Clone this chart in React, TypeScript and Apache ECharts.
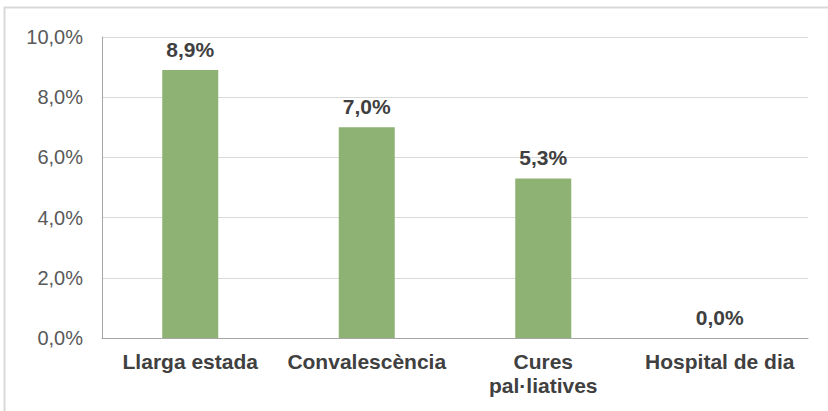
import React, { useEffect, useRef } from "react";
import * as echarts from "echarts";

const categories = ["Llarga estada", "Convalescència", "Cures pal·liatives", "Hospital de dia"];
const values = [8.9, 7.0, 5.3, 0.0];
const yTicks = { min: 0, max: 10, interval: 2 };

const fmt = (v: number) => v.toFixed(1).replace(".", ",") + "%";

export default function App() {
  const ref = useRef<HTMLDivElement>(null);
  useEffect(() => {
    const chart = echarts.init(ref.current!, null, { renderer: "svg" });
    chart.setOption({
      animation: false,
      backgroundColor: "#ffffff",
      textStyle: { fontFamily: "Liberation Sans, Arial, sans-serif" },
      graphic: [
        {
          type: "rect",
          shape: { x: 4.5, y: 7.5, width: 900, height: 600 },
          style: { fill: "none", stroke: "#d9d9d9", lineWidth: 2 },
          silent: true,
        },
      ],
      grid: { left: 102, right: 20, top: 37, bottom: 73 },
      xAxis: {
        type: "category",
        data: categories,
        axisTick: { show: false },
        axisLine: { lineStyle: { color: "#a6a6a6", width: 1 } },
        axisLabel: {
          interval: 0,
          margin: 11,
          color: "#404040",
          fontWeight: "bold",
          fontSize: 21,
          lineHeight: 24,
          fontFamily: "Liberation Sans, Arial, sans-serif",
          formatter: (v: string) => (v === "Cures pal·liatives" ? "Cures\npal·liatives" : v),
        },
      },
      yAxis: {
        type: "value",
        min: yTicks.min,
        max: yTicks.max,
        interval: yTicks.interval,
        axisLine: { show: true, lineStyle: { color: "#a6a6a6", width: 1 } },
        axisTick: { show: false },
        splitLine: { lineStyle: { color: "#d9d9d9", width: 1 } },
        axisLabel: {
          margin: 19,
          color: "#595959",
          fontSize: 20,
          fontFamily: "Liberation Sans, Arial, sans-serif",
          formatter: (v: number) => fmt(v),
        },
      },
      series: [
        {
          type: "bar",
          data: values,
          barWidth: 56,
          itemStyle: { color: "#8db273" },
          label: {
            show: true,
            position: "top",
            distance: 10,
            color: "#404040",
            fontWeight: "bold",
            fontSize: 21,
            fontFamily: "Liberation Sans, Arial, sans-serif",
            formatter: (p: any) => fmt(p.value),
          },
        },
      ],
    });
    return () => chart.dispose();
  }, []);
  return (
    <div
      ref={ref}
      style={{ position: "absolute", left: 0, top: 0, width: 828, height: 411 }}
    />
  );
}
